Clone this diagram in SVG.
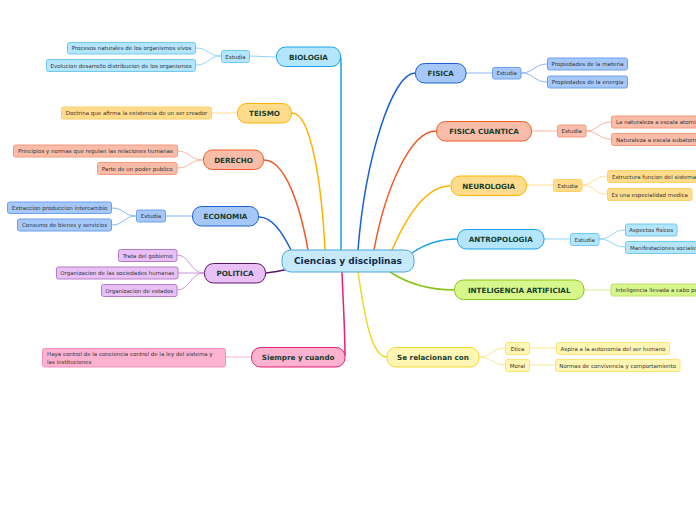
<svg xmlns="http://www.w3.org/2000/svg" width="696" height="520" viewBox="0 0 696 520">
<style>
text{font-family:"DejaVu Sans","Verdana",sans-serif}
.main{font-size:7.2px;font-weight:bold;fill:#163f30;text-anchor:middle}
.sub{font-size:5.5px;fill:#333;text-anchor:middle}
.subl{font-size:5.5px;fill:#333;text-anchor:start}
.center{font-size:9px;font-weight:bold;fill:#112a4a;text-anchor:middle}
.c path{fill:none}
.mc{stroke-width:1.5}
.sc{stroke-width:1}
.cyanM{fill:#b3e5fc;stroke:#1aa3e8}
.cyanS{fill:#b3e5fc;stroke:#72c9f2}
.blueM{fill:#a6c8f8;stroke:#1a62d4}
.blueS{fill:#a6c8f8;stroke:#6e9fee}
.oraM{fill:#f9bca8;stroke:#f05a28}
.oraS{fill:#f9bca8;stroke:#f59a7c}
.yelM{fill:#ffdc8c;stroke:#ffb300}
.yelS{fill:#ffdc8c;stroke:#ffcf6a}
.purM{fill:#e9c0f6;stroke:#5e1466}
.purS{fill:#e9c0f6;stroke:#b47cc8}
.pinM{fill:#fdb2d0;stroke:#e91e75}
.pinS{fill:#fdb2d0;stroke:#f78fbd}
.grnM{fill:#d7f78d;stroke:#8bc31b}
.grnS{fill:#d7f78d;stroke:#bde06a}
.lyeM{fill:#fff6b3;stroke:#f0d82a}
.lyeS{fill:#fff6b3;stroke:#f5e47a}
</style>
<g id="connectors" class="c">
<!-- main connectors -->
<path class="mc" stroke="#1aa3e8" d="M339,55 Q341,56 341,62 L341,250"/>
<path class="mc" stroke="#ffb300" d="M292,113 C312,113 322,190 325,250"/>
<path class="mc" stroke="#f05a28" d="M264,160 C285,160 300,205 308,250"/>
<path class="mc" stroke="#1a62d4" d="M259,217 C272,217 282,232 291,250"/>
<path class="mc" stroke="#5e1466" d="M266,273 C275,272 280,271 289,269"/>
<path class="mc" stroke="#e91e75" d="M342,272 C343,300 345,330 345,356"/>
<path class="mc" stroke="#1a62d4" d="M415,73 C392,73 365,160 358,250"/>
<path class="mc" stroke="#f05a28" d="M436,131 C410,131 385,190 374,250"/>
<path class="mc" stroke="#ffb300" d="M450,186 C425,186 405,220 392,250"/>
<path class="mc" stroke="#1aa3e8" d="M457,239 C440,239 425,244 412,253"/>
<path class="mc" stroke="#8bc31b" d="M390,272 C410,285 430,290 454,290"/>
<path class="mc" stroke="#f0d82a" d="M358,272 C365,320 372,357 387,357"/>
<!-- sub connectors -->
<path class="sc" stroke="#90d6f6" d="M276,57 L249,56 M221,56 C208,56 209,48 196,48 M221,56 C208,56 209,65 196,65"/>
<path class="sc" stroke="#ffd98a" d="M237,113 L212,113"/>
<path class="sc" stroke="#f9b49c" d="M203,160 C190,160 190,151 177,151 M203,160 C190,160 190,168 177,168"/>
<path class="sc" stroke="#8cb6f2" d="M192,216 L166,216 M136,216 C124,216 124,208 112,208 M136,216 C124,216 124,225 112,225"/>
<path class="sc" stroke="#c79bd6" d="M204,273 C190,273 190,255 177,255 M204,273 L178,273 M204,273 C190,273 190,290 177,290"/>
<path class="sc" stroke="#fbb0cf" d="M251,357 L226,357"/>
<path class="sc" stroke="#8cb6f2" d="M466,73 L492,73 M521,73 C534,73 534,64 547,64 M521,73 C534,73 534,82 547,82"/>
<path class="sc" stroke="#f9b49c" d="M532,131 L557,131 M586,131 C598,131 598,122 611,122 M586,131 C598,131 598,139 611,139"/>
<path class="sc" stroke="#ffdf9a" d="M527,185 L553,185 M582,185 C594,185 594,176 607,176 M582,185 C594,185 594,194 607,194"/>
<path class="sc" stroke="#90d6f6" d="M544,239 L570,239 M599,239 C612,239 612,230 625,230 M599,239 C612,239 612,247 625,247"/>
<path class="sc" stroke="#d3ee9c" d="M584,290 L611,290"/>
<path class="sc" stroke="#f7e98f" d="M479,357 C492,357 492,348 505,348 M479,357 C492,357 492,365 505,365 M529,348 L556,348 M529,365 L555,365"/>
</g>

<g id="center">
<rect x="282" y="250" width="132" height="22" rx="9" fill="#c6eafb" stroke="#4aa5e0" stroke-width="1"/>
<text class="center" x="348" y="264.3">Ciencias y disciplinas</text>
</g>

<g id="biologia">
<rect class="cyanM" x="276.5" y="47" width="64" height="19.5" rx="9"/>
<text class="main" x="308.5" y="59.5">BIOLOGIA</text>
</g>
<g id="biologia-estudia">
<rect class="cyanS" x="221.5" y="50.5" width="28" height="12" rx="2"/>
<text class="sub" x="235.5" y="58.5">Estudia</text>
</g>
<g id="bio-1">
<rect class="cyanS" x="67.5" y="42.5" width="128" height="11.5" rx="2"/>
<text class="sub" x="131.5" y="50.3">Procesos naturales de los organismos vivos</text>
</g>
<g id="bio-2">
<rect class="cyanS" x="46.5" y="59.5" width="149" height="12" rx="2"/>
<text class="sub" x="121" y="67.5">Evolucion desarrollo distribucion de los organismos</text>
</g>

<g id="teismo">
<rect class="yelM" x="237.5" y="103.5" width="54" height="19.5" rx="9"/>
<text class="main" x="264.5" y="116">TEISMO</text>
</g>
<g id="teismo-1">
<rect class="yelS" x="61.5" y="107" width="150" height="12" rx="2"/>
<text class="sub" x="136.5" y="115">Doctrina que afirma la existencia de un ser creador</text>
</g>

<g id="derecho">
<rect class="oraM" x="203.5" y="150" width="60" height="19.5" rx="9"/>
<text class="main" x="233.5" y="162.5">DERECHO</text>
</g>
<g id="derecho-1">
<rect class="oraS" x="13.5" y="145" width="164" height="12" rx="2"/>
<text class="sub" x="95.5" y="153">Principios y normas que regulan las relaciones humanas</text>
</g>
<g id="derecho-2">
<rect class="oraS" x="97.5" y="162.5" width="79.5" height="12" rx="2"/>
<text class="sub" x="137.2" y="170.5">Parte de un poder publico</text>
</g>

<g id="economia">
<rect class="blueM" x="192.5" y="206.5" width="66" height="19.5" rx="9"/>
<text class="main" x="225.5" y="219">ECONOMIA</text>
</g>
<g id="economia-estudia">
<rect class="blueS" x="136.5" y="210" width="29" height="12" rx="2"/>
<text class="sub" x="151" y="218">Estudia</text>
</g>
<g id="eco-1">
<rect class="blueS" x="7.5" y="202" width="104" height="11.5" rx="2"/>
<text class="sub" x="59.5" y="209.8">Extraccion produccion intercambio</text>
</g>
<g id="eco-2">
<rect class="blueS" x="17.5" y="219" width="94" height="12" rx="2"/>
<text class="sub" x="64.5" y="227">Consumo de bienes y servicios</text>
</g>

<g id="politica">
<rect class="purM" x="204.5" y="263.5" width="61" height="19.5" rx="9"/>
<text class="main" x="235" y="276">POLITICA</text>
</g>
<g id="pol-1">
<rect class="purS" x="118.5" y="249.5" width="58.5" height="12" rx="2"/>
<text class="sub" x="147.7" y="257.5">Trata del gobierno</text>
</g>
<g id="pol-2">
<rect class="purS" x="56.5" y="267" width="121.5" height="12" rx="2"/>
<text class="sub" x="117.2" y="275">Organizacion de las sociedades humanas</text>
</g>
<g id="pol-3">
<rect class="purS" x="101.5" y="284.5" width="75.5" height="12" rx="2"/>
<text class="sub" x="139.2" y="292.5">Organizacion de estados</text>
</g>

<g id="siempre">
<rect class="pinM" x="251.5" y="347.5" width="93.5" height="19.5" rx="9"/>
<text class="main" x="298.2" y="360">Siempre y cuando</text>
</g>
<g id="siempre-1">
<rect class="pinS" x="42.5" y="348.5" width="183" height="18.5" rx="2"/>
<text class="subl" x="47" y="356">Haya control de la conciencia control de la ley del sistema y</text>
<text class="subl" x="47" y="363.5">las instituciones</text>
</g>

<g id="fisica">
<rect class="blueM" x="415.5" y="63.5" width="50.5" height="19.5" rx="9"/>
<text class="main" x="440.7" y="76">FISICA</text>
</g>
<g id="fisica-estudia">
<rect class="blueS" x="492.5" y="67.5" width="28.5" height="11.5" rx="2"/>
<text class="sub" x="506.7" y="75.3">Estudia</text>
</g>
<g id="fis-1">
<rect class="blueS" x="547.5" y="58" width="80" height="12" rx="2"/>
<text class="sub" x="587.5" y="66">Propiedades de la materia</text>
</g>
<g id="fis-2">
<rect class="blueS" x="547.5" y="76" width="80" height="12" rx="2"/>
<text class="sub" x="587.5" y="84">Propiedades de la energia</text>
</g>

<g id="fisica-cuantica">
<rect class="oraM" x="436.5" y="121.5" width="95" height="19.5" rx="9"/>
<text class="main" x="484" y="134">FISICA CUANTICA</text>
</g>
<g id="fc-estudia">
<rect class="oraS" x="557.5" y="125" width="28.5" height="12" rx="2"/>
<text class="sub" x="571.7" y="133">Estudia</text>
</g>
<g id="fc-1">
<rect class="oraS" x="611.5" y="116" width="100" height="12" rx="2"/>
<text class="subl" x="616" y="124">La naturaleza a escala atomica</text>
</g>
<g id="fc-2">
<rect class="oraS" x="611.5" y="133.5" width="100" height="12" rx="2"/>
<text class="subl" x="616" y="141.5">Naturaleza a escala subatomica</text>
</g>

<g id="neurologia">
<rect class="yelM" x="451" y="176" width="75.5" height="19.5" rx="9"/>
<text class="main" x="488.7" y="188.5">NEUROLOGIA</text>
</g>
<g id="neu-estudia">
<rect class="yelS" x="553.5" y="179.5" width="28.5" height="12" rx="2"/>
<text class="sub" x="567.7" y="187.5">Estudia</text>
</g>
<g id="neu-1">
<rect class="yelS" x="607.5" y="170.5" width="120" height="12" rx="2"/>
<text class="subl" x="612" y="178.5">Estructura funcion del sistema nervioso</text>
</g>
<g id="neu-2">
<rect class="yelS" x="607.5" y="188.5" width="84.5" height="12" rx="2"/>
<text class="sub" x="649.7" y="196.5">Es una especialidad medica</text>
</g>

<g id="antropologia">
<rect class="cyanM" x="457.5" y="229.5" width="86.5" height="19.5" rx="9"/>
<text class="main" x="500.7" y="242">ANTROPOLOGIA</text>
</g>
<g id="ant-estudia">
<rect class="cyanS" x="570.5" y="233.5" width="28.5" height="12" rx="2"/>
<text class="sub" x="584.7" y="241.5">Estudia</text>
</g>
<g id="ant-1">
<rect class="cyanS" x="625.5" y="224" width="51.5" height="12" rx="2"/>
<text class="sub" x="651.2" y="232">Aspectos fisicos</text>
</g>
<g id="ant-2">
<rect class="cyanS" x="625.5" y="241.5" width="90" height="12" rx="2"/>
<text class="subl" x="630" y="249.5">Manifestaciones sociales</text>
</g>

<g id="inteligencia">
<rect class="grnM" x="454.5" y="280" width="129.5" height="19.5" rx="9"/>
<text class="main" x="519.2" y="292.5">INTELIGENCIA ARTIFICIAL</text>
</g>
<g id="ia-1">
<rect class="grnS" x="611" y="284" width="120" height="12" rx="2"/>
<text class="subl" x="615.5" y="292">Inteligencia llevada a cabo por maquinas</text>
</g>

<g id="relacionan">
<rect class="lyeM" x="387" y="347.5" width="92" height="19.5" rx="9"/>
<text class="main" x="433" y="360">Se relacionan con</text>
</g>
<g id="etica">
<rect class="lyeS" x="505.5" y="342.5" width="24" height="12" rx="2"/>
<text class="sub" x="517.5" y="350.5">Etica</text>
</g>
<g id="moral">
<rect class="lyeS" x="505.5" y="359.5" width="24" height="12" rx="2"/>
<text class="sub" x="517.5" y="367.5">Moral</text>
</g>
<g id="etica-1">
<rect class="lyeS" x="556.5" y="342.5" width="113" height="12" rx="2"/>
<text class="sub" x="613" y="350.5">Aspira a la autonomia del ser humano</text>
</g>
<g id="moral-1">
<rect class="lyeS" x="555.5" y="359.5" width="124.5" height="12" rx="2"/>
<text class="sub" x="617.7" y="367.5">Normas de convivencia y comportamiento</text>
</g>
</svg>
